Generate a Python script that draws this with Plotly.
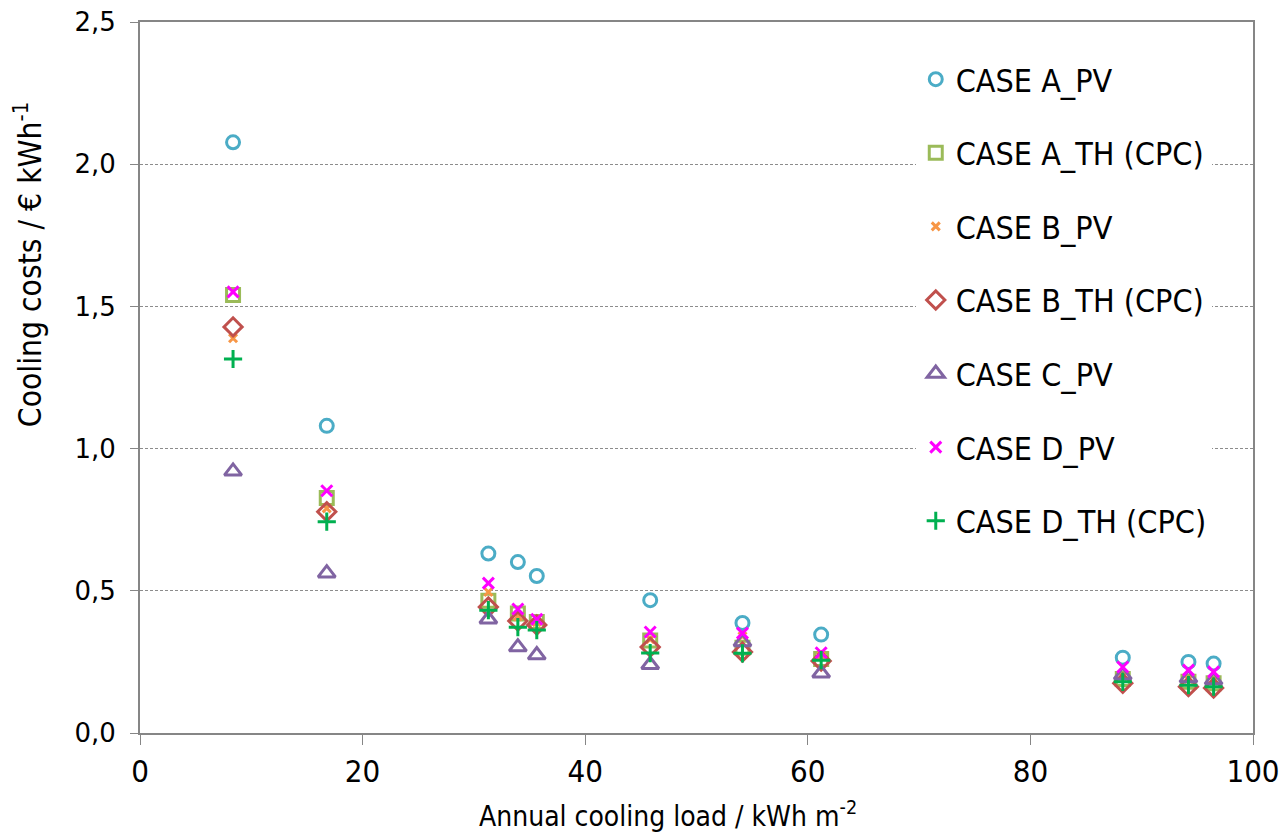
import plotly.graph_objects as go

# ---- data ----
cooling_load = [8.36, 16.78, 31.3, 33.95, 35.65, 45.84, 54.13, 61.2, 88.3, 94.2, 96.46]

case_a_pv = [2.077, 1.080, 0.631, 0.601, 0.552, 0.467, 0.387, 0.346, 0.265, 0.250, 0.244]
case_a_th = [1.540, 0.826, 0.465, 0.420, 0.390, 0.325, 0.300, 0.260, 0.190, 0.180, 0.175]
case_b_pv = [1.388, 0.790, 0.496, 0.410, 0.390, 0.330, 0.340, 0.270, 0.200, 0.190, 0.185]
case_b_th = [1.428, 0.778, 0.443, 0.394, 0.380, 0.302, 0.285, 0.253, 0.175, 0.163, 0.158]
case_c_pv = [0.920, 0.562, 0.400, 0.302, 0.274, 0.240, 0.320, 0.210, 0.203, 0.193, 0.186]
case_d_pv = [1.551, 0.852, 0.527, 0.436, 0.400, 0.355, 0.351, 0.282, 0.232, 0.221, 0.215]
case_d_th = [1.315, 0.743, 0.432, 0.372, 0.362, 0.281, 0.280, 0.256, 0.180, 0.168, 0.163]

series_names = ["CASE A_PV", "CASE A_TH (CPC)", "CASE B_PV", "CASE B_TH (CPC)",
                "CASE C_PV", "CASE D_PV", "CASE D_TH (CPC)"]
series_values = [case_a_pv, case_a_th, case_b_pv, case_b_th, case_c_pv, case_d_pv, case_d_th]
series_colors = ["#4BACC6", "#9BBB59", "#F79646", "#C0504D", "#8064A2", "#FF00FF", "#00B050"]
series_symbols = ["circle-open", "square-open", "x-thin-open", "diamond-open",
                  "triangle-up-open", "x-thin-open", "cross-thin-open"]
series_sizes = [13, 13, 8, 14, 15, 11, 13]
series_lw = [3, 3, 3, 3, 3, 3, 3]

y_ticks = [0, 0.5, 1.0, 1.5, 2.0, 2.5]
x_ticks = [0, 20, 40, 60, 80, 100]

TEXT_FONT = "DejaVu Sans Condensed, Roboto, sans-serif"
TICK_FONT_Y = "DejaVu Sans, Verdana, sans-serif"

fig = go.Figure()
for i, (name, vals) in enumerate(zip(series_names, series_values)):
    fig.add_trace(go.Scatter(
        x=cooling_load, y=vals, mode="markers", name=name,
        legendgroup=f"g{i}",
        marker=dict(symbol=series_symbols[i], size=series_sizes[i], color=series_colors[i],
                    line=dict(width=series_lw[i], color=series_colors[i])),
    ))

fig.update_layout(
    width=1281, height=838,
    margin=dict(l=140, r=28, t=22, b=105, autoexpand=False),
    paper_bgcolor="white", plot_bgcolor="white",
    separators=", ",
    showlegend=True,
    legend=dict(
        x=0.697, y=0.958, xanchor="left", yanchor="top",
        bgcolor="white", borderwidth=0,
        traceorder="grouped", tracegroupgap=29,
        font=dict(family=TEXT_FONT, size=32, color="#000000"),
        itemwidth=30,
    ),
    xaxis=dict(
        range=[0, 100], tickvals=x_ticks, ticktext=[str(v) for v in x_ticks],
        showgrid=False, zeroline=False,
        showline=True, linecolor="#868686", linewidth=2, mirror=True,
        ticks="outside", ticklen=10, tickcolor="#868686", tickwidth=1,
        tickfont=dict(family=TEXT_FONT, size=31, color="#000000"),
    ),
    yaxis=dict(
        range=[0, 2.5], tickvals=y_ticks, tickformat=".1f",
        showgrid=True, gridcolor="#8c8c8c", gridwidth=1, griddash="3px,2px",
        zeroline=False,
        showline=True, linecolor="#868686", linewidth=2, mirror=True,
        ticks="outside", ticklen=8, tickcolor="#868686", tickwidth=1,
        ticklabelstandoff=9,
        tickfont=dict(family=TICK_FONT_Y, size=26, color="#000000"),
    ),
)

fig.add_annotation(
    text="Cooling costs / € kWh<sup>-1</sup>", textangle=-90,
    xref="paper", yref="paper", x=-0.1, y=0.659, xanchor="center", yanchor="middle",
    showarrow=False, font=dict(family=TEXT_FONT, size=31.5, color="#000000"),
)
fig.add_annotation(
    text="Annual cooling load / kWh m<sup>-2</sup>",
    xref="paper", yref="paper", x=0.474, y=-0.114, xanchor="center", yanchor="middle",
    showarrow=False, font=dict(family=TEXT_FONT, size=28, color="#000000"),
)

fig.write_html("out.html")
